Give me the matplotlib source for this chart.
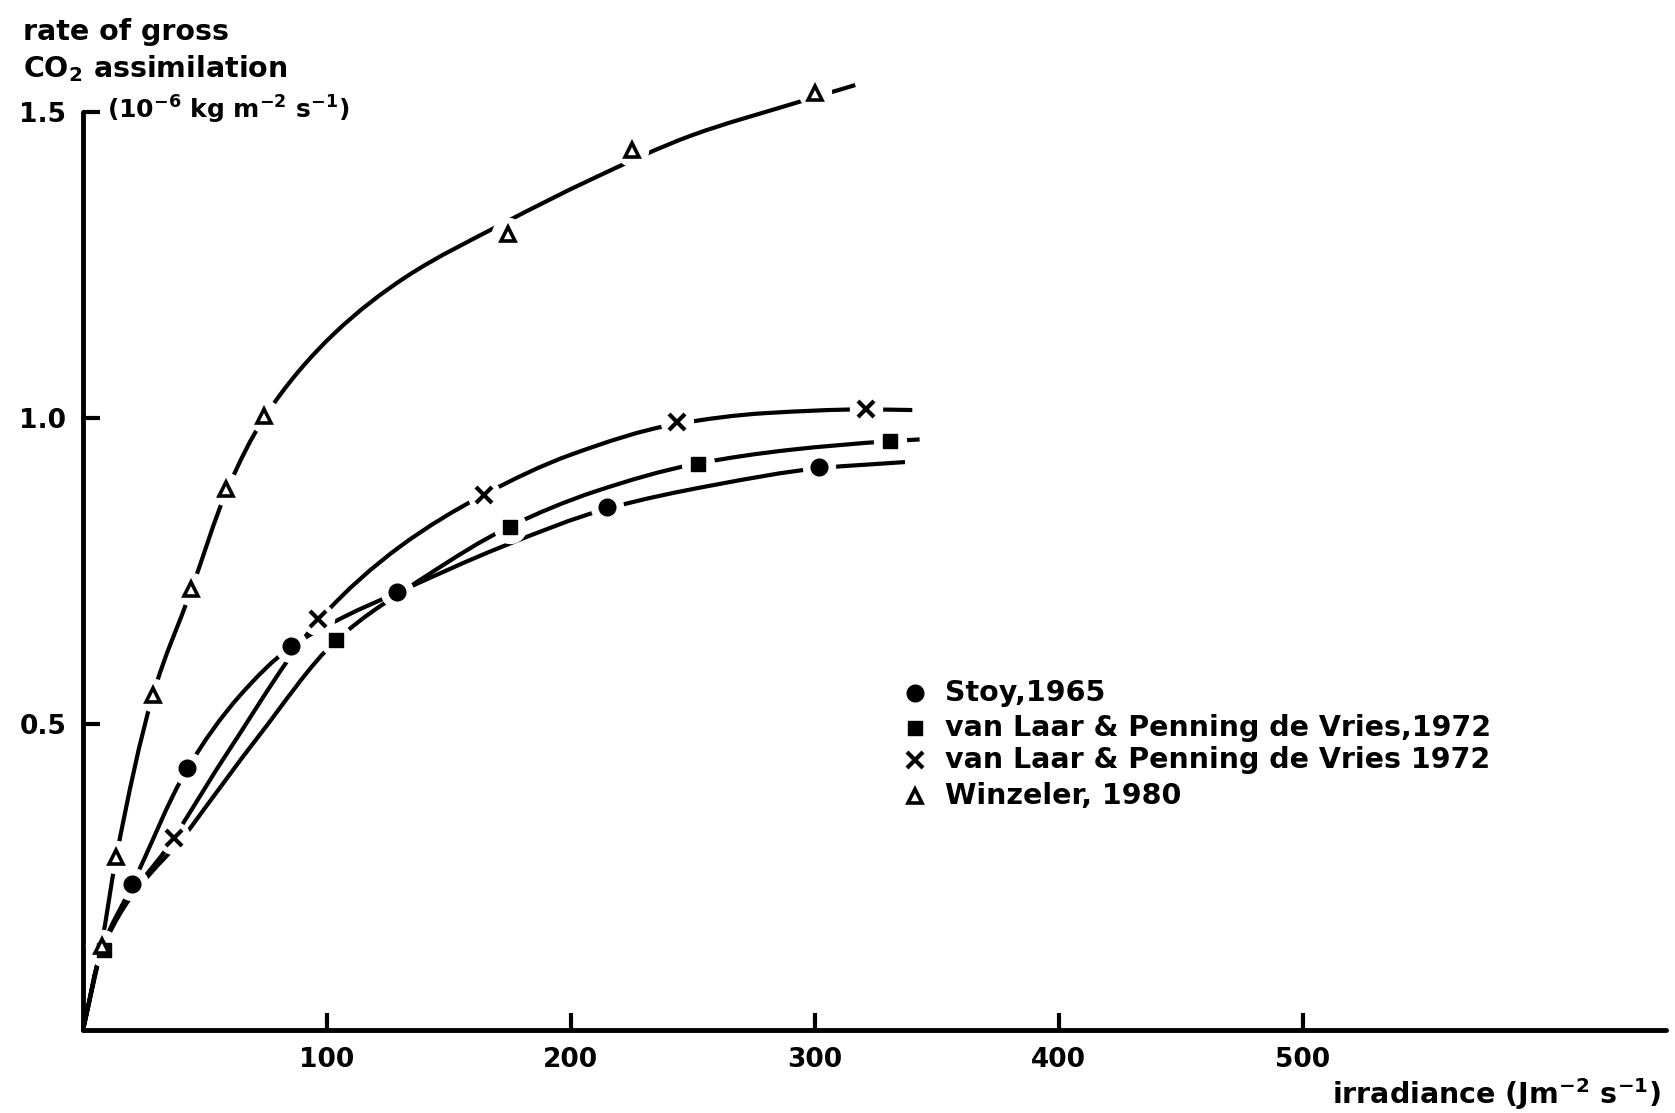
import matplotlib
matplotlib.use("Agg")
import matplotlib.pyplot as plt
from matplotlib.path import Path
from matplotlib.patches import PathPatch

# Measured points (irradiance in J m-2 s-1, gross CO2 assimilation in 1e-6 kg m-2 s-1)
stoy_x = [20, 42.5, 85.2, 128.9, 214.9, 301.8]
stoy_y = [0.239, 0.428, 0.627, 0.715, 0.854, 0.920]

laar_sq_x = [8.5, 103.8, 174.9, 252.0, 331.0]
laar_sq_y = [0.130, 0.637, 0.822, 0.925, 0.962]

laar_x_x = [37.3, 96.5, 164.6, 243.5, 321.0]
laar_x_y = [0.314, 0.672, 0.874, 0.994, 1.014]

winz_x = [7.6, 13.5, 28.6, 44.4, 58.8, 74.2, 174.4, 225.1, 300.0]
winz_y = [0.137, 0.282, 0.547, 0.720, 0.884, 1.004, 1.301, 1.438, 1.531]

# Fitted response curves (nodes along each drawn curve)
stoy_fit_x = [0, 7.6, 20, 42.5, 64, 85, 107, 129, 172, 215, 258, 302, 337]
stoy_fit_y = [0, 0.13, 0.235, 0.425, 0.545, 0.625, 0.675, 0.715, 0.79, 0.852, 0.89, 0.918, 0.928]

laar_sq_fit_x = [0, 7.6, 44, 72, 103.7, 140, 174.6, 210, 251.2, 290, 330.3, 343]
laar_sq_fit_y = [0, 0.13, 0.33, 0.48, 0.636, 0.74, 0.822, 0.88, 0.925, 0.948, 0.962, 0.965]

laar_x_fit_x = [0, 7.6, 37.3, 60, 97, 130, 164, 200, 243, 280, 320, 340]
laar_x_fit_y = [0, 0.13, 0.314, 0.458, 0.671, 0.79, 0.874, 0.94, 0.99, 1.008, 1.014, 1.013]

winz_fit_x = [0, 7.6, 13.5, 28.5, 44.5, 58.8, 74.2, 103, 132.6, 172.3, 207.9, 249.7, 291.5, 316.6]
winz_fit_y = [0, 0.14, 0.28, 0.545, 0.72, 0.88, 1.0, 1.138, 1.231, 1.318, 1.389, 1.462, 1.514, 1.544]

x_ticks = [100, 200, 300, 400, 500]
y_ticks = [0.5, 1.0, 1.5]
y_tick_labels = ["0.5", "1.0", "1.5"]

legend_labels = ["Stoy,1965",
                 "van Laar & Penning de Vries,1972",
                 "van Laar & Penning de Vries 1972",
                 "Winzeler, 1980"]

plt.rcParams["font.family"] = ["DejaVu Sans"]
plt.rcParams["font.weight"] = "bold"
plt.rcParams["mathtext.default"] = "regular"
LW = 3.0


def smooth_path(xs, ys):
    """Monotone cubic (Fritsch-Carlson) curve through the nodes, as Bezier segments."""
    n = len(xs)
    h = [xs[i + 1] - xs[i] for i in range(n - 1)]
    dl = [(ys[i + 1] - ys[i]) / h[i] for i in range(n - 1)]
    d = [0.0] * n
    d[0], d[-1] = dl[0], dl[-1]
    for k in range(1, n - 1):
        if dl[k - 1] * dl[k] <= 0:
            d[k] = 0.0
        else:
            w1 = 2 * h[k] + h[k - 1]
            w2 = h[k] + 2 * h[k - 1]
            d[k] = (w1 + w2) / (w1 / dl[k - 1] + w2 / dl[k])
    verts = [(xs[0], ys[0])]
    codes = [Path.MOVETO]
    for i in range(n - 1):
        verts += [(xs[i] + h[i] / 3, ys[i] + d[i] * h[i] / 3),
                  (xs[i + 1] - h[i] / 3, ys[i + 1] - d[i + 1] * h[i] / 3),
                  (xs[i + 1], ys[i + 1])]
        codes += [Path.CURVE4] * 3
    return Path(verts, codes)


W, H = 1675, 1113
fig = plt.figure(figsize=(W / 100, H / 100), dpi=100)
x0_px, x1_px = 83, 1666
y0_px = 1030
ymax = 1.6
px_per_unit_y = 612.0
top_px = y0_px - ymax * px_per_unit_y
ax = fig.add_axes([x0_px / W, (H - y0_px) / H, (x1_px - x0_px) / W, (y0_px - top_px) / H])
ax.set_xlim(0, 649)
ax.set_ylim(0, ymax)

for s in ("top", "right"):
    ax.spines[s].set_visible(False)
for s in ("left", "bottom"):
    ax.spines[s].set_linewidth(3.5)
    ax.spines[s].set_capstyle("round")
ax.spines["left"].set_bounds(0, 1.5)

ax.set_xticks(x_ticks)
ax.set_xticklabels([str(t) for t in x_ticks])
ax.set_yticks(y_ticks)
ax.set_yticklabels(y_tick_labels)
ax.tick_params(axis="both", direction="in", length=12, width=3, labelsize=19)
ax.tick_params(axis="x", pad=12)
ax.tick_params(axis="y", pad=12)

series = [
    (stoy_fit_x, stoy_fit_y, stoy_x, stoy_y, dict(marker="o", ms=12, mfc="black", mec="black", mew=1)),
    (laar_sq_fit_x, laar_sq_fit_y, laar_sq_x, laar_sq_y, dict(marker="s", ms=10.5, mfc="black", mec="black", mew=1)),
    (laar_x_fit_x, laar_x_fit_y, laar_x_x, laar_x_y, dict(marker="x", ms=11, mfc="black", mec="black", mew=3)),
    (winz_fit_x, winz_fit_y, winz_x, winz_y, dict(marker="^", ms=10, mfc="white", mec="black", mew=2.6)),
]

# curves
for fx, fy, _, _, _ in series:
    ax.add_patch(PathPatch(smooth_path(fx, fy), fill=False, edgecolor="black", lw=LW,
                           capstyle="butt", zorder=2, clip_on=False))
# white gaps around the data points
for _, _, px, py, _ in series:
    ax.plot(px, py, ls="none", marker="o", ms=23, mfc="white", mec="white", zorder=3, clip_on=False)
# data points
for _, _, px, py, style in series:
    ax.plot(px, py, ls="none", color="black", zorder=4, clip_on=False, **style)

# legend drawn as marker + text rows
leg_x_marker = (915 - x0_px) / 2.44
leg_x_text = (945 - x0_px) / 2.44
leg_rows_px = [693, 728, 760, 796]
for (lab, (_, _, _, _, style), rpx) in zip(legend_labels, series, leg_rows_px):
    yy = (y0_px - rpx) / px_per_unit_y
    ax.plot([leg_x_marker], [yy], ls="none", color="black", zorder=4, **style)
    ax.text(leg_x_text, yy, lab, fontsize=20.5, va="center", ha="left")

# axis titles
fig.text(23 / W, 1 - 40 / H, "rate of gross", fontsize=20.5, ha="left", va="baseline")
fig.text(23 / W, 1 - 77 / H, r"CO$_2$ assimilation", fontsize=20.5, ha="left", va="baseline")
fig.text(107 / W, 1 - 119 / H, r"(10$^{-6}$ kg m$^{-2}$ s$^{-1}$)", fontsize=18, ha="left", va="baseline")
fig.text(1661 / W, 1 - 1104 / H, r"irradiance (Jm$^{-2}$ s$^{-1}$)", fontsize=20.5, ha="right", va="baseline")

fig.savefig("out.png", dpi=100, facecolor="white")
